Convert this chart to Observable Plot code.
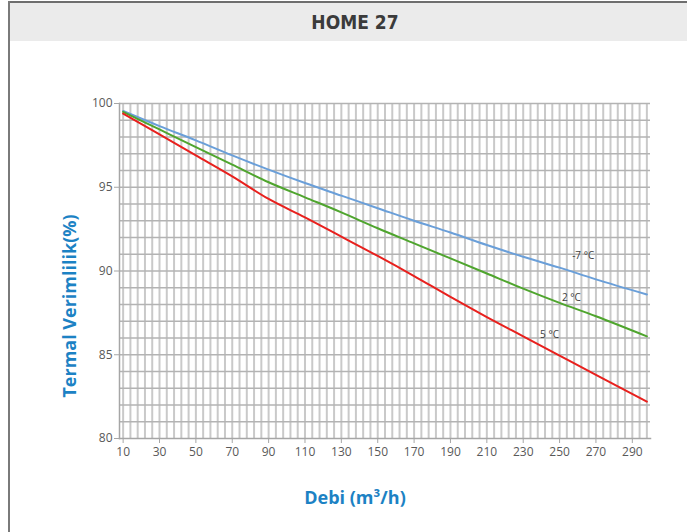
<!DOCTYPE html>
<html>
<head>
<meta charset="utf-8">
<script src="https://cdn.jsdelivr.net/npm/d3@7"></script>
<script src="https://cdn.jsdelivr.net/npm/@observablehq/plot@0.6"></script>
<style>
  html, body { margin: 0; padding: 0; background: #fff; }
  #page { position: relative; width: 687px; height: 532px; overflow: hidden; background: #fff; }
  #topline { position: absolute; left: 8px; top: 1px; width: 679px; height: 2px; background: #6e6e6e; }
  #leftline { position: absolute; left: 8px; top: 1px; width: 2px; height: 531px; background: #7a7a7a; }
  #header { position: absolute; left: 10px; top: 3px; width: 677px; height: 38px; background: #ebebeb; }
  #title { position: absolute; left: 0; top: 3px; width: 710px; height: 38px; line-height: 38px; text-align: center;
           font-family: "DejaVu Sans Condensed", "DejaVu Sans", sans-serif; font-stretch: condensed; font-weight: bold;
           font-size: 19px; color: #3b3b3b; letter-spacing: 0px; }
  #chart { position: absolute; left: 0; top: 40px; }
</style>
</head>
<body>
<div id="page">
  <div id="header"></div>
  <div id="topline"></div>
  <div id="leftline"></div>
  <div id="title">HOME 27</div>
  <div id="chart"></div>
</div>
<script>
// Debi (m³/h) sample points
const debi = [10, 30, 50, 70, 90, 110, 130, 150, 170, 190, 210, 230, 250, 270, 298];
// Termal verimlilik (%) per outdoor temperature
const minus7 = [99.55, 98.65, 97.8, 96.9, 96.05, 95.25, 94.5, 93.75, 93.0, 92.3, 91.55, 90.85, 90.2, 89.5, 88.6];
const plus2  = [99.5, 98.45, 97.4, 96.35, 95.3, 94.4, 93.5, 92.55, 91.65, 90.75, 89.85, 88.95, 88.1, 87.3, 86.1];
const plus5  = [99.4, 98.15, 96.9, 95.65, 94.3, 93.2, 92.05, 90.9, 89.7, 88.45, 87.25, 86.1, 84.95, 83.8, 82.2];
const seriesNames = ["-7 °C", "2 °C", "5 °C"];
const seriesColors = ["#6a9fd9", "#4fa52e", "#e8201d"];
const labelX = [263, 256.5, 244.5];
const labelY = [90.93, 88.42, 86.2];
const xTicks = [10, 30, 50, 70, 90, 110, 130, 150, 170, 190, 210, 230, 250, 270, 290];
const yTicks = [80, 85, 90, 95, 100];
const xGridLines = d3.range(10, 299, 4);
const yGridLines = d3.range(81, 101, 1);

const allSeries = [minus7, plus2, plus5];
const rows = allSeries.flatMap((vals, i) => debi.map((d, j) => ({debi: d, v: vals[j], s: seriesNames[i]})));
const labels = seriesNames.map((s, i) => ({s, x: labelX[i], y: labelY[i]}));

const tickFont = "Open Sans, Liberation Sans, sans-serif";

const plot = Plot.plot({
  width: 687,
  height: 492,
  marginTop: 63,
  marginBottom: 94,
  marginLeft: 119,
  marginRight: 37,
  style: {fontFamily: tickFont, fontSize: "12px", color: "#595959", background: "transparent"},
  x: {domain: [8, 300]},
  y: {domain: [80, 100]},
  color: {domain: seriesNames, range: seriesColors},
  marks: [
    Plot.gridX(xGridLines, {stroke: "#c9c9c9", strokeWidth: 2, strokeOpacity: 1}),
    Plot.gridY(yGridLines, {stroke: "#b3b3b3", strokeWidth: 1.5, strokeOpacity: 1}),
    Plot.frame({anchor: "left", stroke: "#a6a6a6", strokeWidth: 1.5}),
    Plot.frame({anchor: "bottom", stroke: "#a6a6a6", strokeWidth: 1.5}),
    Plot.axisX(xTicks, {tickSize: 5, tickPadding: 4, stroke: "#a6a6a6", fill: "#595959", fontSize: 12, label: null}),
    Plot.axisY(yTicks, {tickSize: 5, tickPadding: 2, stroke: "#a6a6a6", fill: "#595959", fontSize: 12, label: null}),
    Plot.line(rows, {x: "debi", y: "v", z: "s", stroke: "s", strokeWidth: 2, curve: "catmull-rom"}),
    Plot.text(labels, {x: "x", y: "y", text: "s", fill: "#404040", fontSize: 10})
  ]
});

const svg = d3.select(plot);
svg.append("text")
  .attr("transform", "translate(76,266) rotate(-90)")
  .attr("text-anchor", "middle")
  .attr("font-family", "Open Sans, sans-serif")
  .attr("font-weight", "bold")
  .attr("font-size", 18)
  .attr("fill", "#1c82c4")
  .text("Termal Verimlilik(%)");
svg.append("text")
  .attr("x", 355)
  .attr("y", 464)
  .attr("text-anchor", "middle")
  .attr("font-family", "Open Sans, sans-serif")
  .attr("font-weight", "bold")
  .attr("font-size", 18)
  .attr("fill", "#1c82c4")
  .text("Debi (m³/h)");

document.getElementById("chart").appendChild(plot);
</script>
</body>
</html>
